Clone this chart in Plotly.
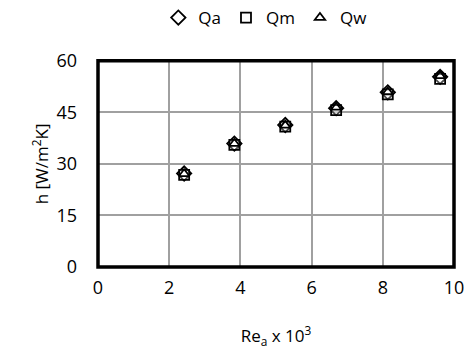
import plotly.graph_objects as go

re_a = [2.42, 3.83, 5.26, 6.69, 8.14, 9.61]
h_qa = [27.2, 35.9, 41.3, 46.2, 50.8, 55.3]
h_qm = [26.8, 35.5, 40.8, 45.6, 50.2, 54.7]
h_qw = [27.1, 35.9, 41.2, 46.4, 50.9, 55.6]
series_names = ["Qa", "Qm", "Qw"]
x_ticks = [0, 2, 4, 6, 8, 10]
y_ticks = [0, 15, 30, 45, 60]

FONT = "Open Sans, Liberation Sans, sans-serif"

fig = go.Figure()
styles = [("diamond", 11), ("square", 10), ("triangle-up", 9)]
for name, ys, (sym, sz) in zip(series_names, [h_qa, h_qm, h_qw], styles):
    fig.add_trace(go.Scatter(
        x=re_a, y=ys, mode="markers", name=name,
        marker=dict(symbol=sym, size=sz, color="rgba(255,255,255,0.3)",
                    line=dict(color="black", width=1.8)),
    ))

fig.update_layout(
    width=476, height=358,
    margin=dict(l=98, r=14, t=51, b=91),
    paper_bgcolor="white", plot_bgcolor="white",
    font=dict(family=FONT, size=18, color="black"),
    showlegend=True,
    legend=dict(orientation="h", x=0.47, xanchor="center", y=1.0, yanchor="top",
                yref="container", font=dict(size=17), itemwidth=30,
                tracegroupgap=0, bgcolor="rgba(0,0,0,0)"),
    xaxis=dict(range=[0, 10], tickvals=x_ticks, showgrid=True, gridcolor="#a0a0a0",
               gridwidth=1.5, zeroline=False, showline=False, ticks="",
               ticklabelstandoff=8,
               title=dict(text="Re<sub>a</sub> x 10<sup>3</sup>", font=dict(size=17), standoff=32)),
    yaxis=dict(range=[0, 60], tickvals=y_ticks, showgrid=True, gridcolor="#a0a0a0",
               gridwidth=1.5, zeroline=False, showline=False, ticks="",
               ticklabelstandoff=20,
               title=dict(text="h [W/m<sup>2</sup>K]", font=dict(size=17), standoff=3)),
)

fig.add_shape(type="rect", xref="paper", yref="paper", x0=0, y0=0, x1=1, y1=1,
              line=dict(color="black", width=3.5), layer="above")

fig.write_html("out.html")
